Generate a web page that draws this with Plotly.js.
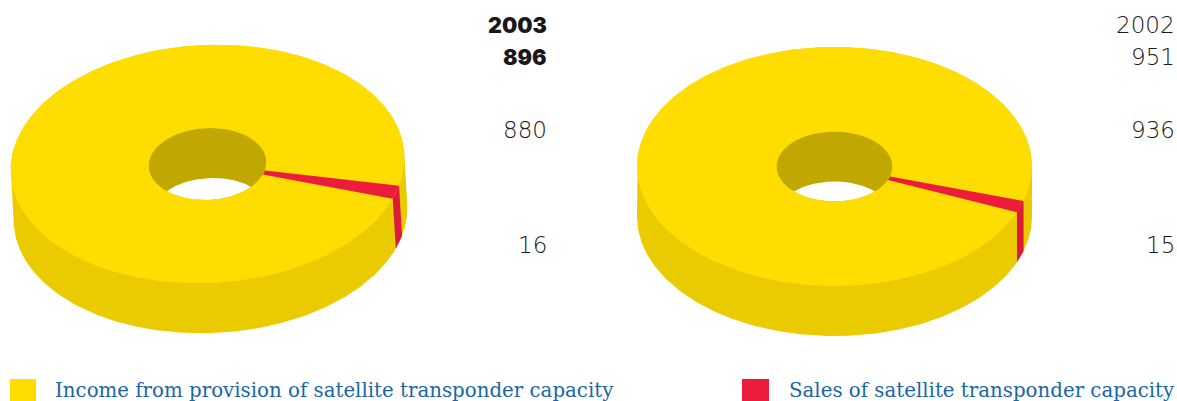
<!DOCTYPE html>
<html>
<head>
<meta charset="utf-8">
<script src="https://cdn.plot.ly/plotly-3.0.1.min.js"></script>
<style>html,body{margin:0;padding:0;background:#fff;overflow:hidden}#chart{width:1177px;height:401px}</style>
</head>
<body>
<div id="chart"></div>
<script>
const years = ['2003', '2002'];
const totals = [896, 951];
const incomeValues = [880, 936];
const salesValues = [16, 15];
const categories = ['Income from provision of satellite transponder capacity', 'Sales of satellite transponder capacity'];

const YELLOW = '#FFDD00', YELLOW_SIDE = '#E9CB00', WALL = '#C0A800', RED = '#EE1C3C', RED_SIDE = '#DC1A38';
const INK = '#1A1718', BLUE = '#1B66A8';

// layout of the two drawn rings (tilt in degrees, negative lifts the right-hand end)
const rings = [
  {cx: 207.5, cy: 164, rx: 197, ry: 119, hx: 59, hy: 36, dx: 3, dy: 50, tilt: -2.75, start: 15.0, labelX: 548, bold: true},
  {cx: 834.5, cy: 166.5, rx: 197.5, ry: 119.5, hx: 58, hy: 35, dx: 0, dy: 50, tilt: 0, start: 16.8, labelX: 1175.5, bold: false}
];
const labelY = [25, 57, 130, 245];

const rad = d => d * Math.PI / 180;
function place(r, u, v) {
  const s = Math.sin(rad(r.tilt)), c = Math.cos(rad(r.tilt));
  return [r.cx + u * c - v * s, r.cy + u * s + v * c];
}
function arc(r, a, b, a0, a1, n, shifted) {
  const xs = [], ys = [];
  for (let i = 0; i <= n; i++) {
    const t = rad(a0 + (a1 - a0) * i / n);
    const p = place(r, a * Math.cos(t), b * Math.sin(t));
    xs.push(p[0] + (shifted ? r.dx : 0));
    ys.push(p[1] + (shifted ? r.dy : 0));
  }
  return [xs, ys];
}
function poly(xs, ys, color) {
  return {type: 'scatter', mode: 'lines', x: xs.concat(xs[0]), y: ys.concat(ys[0]), fill: 'toself', fillcolor: color,
    line: {width: 0, color: color}, hoverinfo: 'skip', showlegend: false};
}
function sector(r, a0, a1, color) {
  const n = Math.max(6, Math.ceil(Math.abs(a1 - a0)));
  const o = arc(r, r.rx, r.ry, a0, a1, n, false);
  const i = arc(r, r.hx, r.hy, a1, a0, n, false);
  return poly(o[0].concat(i[0]), o[1].concat(i[1]), color);
}
function localShift(r) {
  const s = Math.sin(rad(r.tilt)), c = Math.cos(rad(r.tilt));
  return [r.dx * c + r.dy * s, -r.dx * s + r.dy * c];
}
function lens(r) {
  // the see-through part of the hole: hole ellipse overlapped with the same ellipse on the lower face
  const [lx, ly] = localShift(r);
  const upx = [], upy = [], lox = [], loy = [];
  for (let u = -r.hx; u <= r.hx + lx; u += 0.5) {
    const a = u / r.hx, b = (u - lx) / r.hx;
    if (Math.abs(a) >= 1 || Math.abs(b) >= 1) continue;
    const top = ly - r.hy * Math.sqrt(1 - b * b), bot = r.hy * Math.sqrt(1 - a * a);
    if (top < bot) {
      const p = place(r, u, top), q = place(r, u, bot);
      upx.push(p[0]); upy.push(p[1]); lox.unshift(q[0]); loy.unshift(q[1]);
    }
  }
  return poly(upx.concat(lox), upy.concat(loy), '#FFFFFF');
}

const traces = [], annotations = [];
rings.forEach((r, k) => {
  const total = incomeValues[k] + salesValues[k];
  const a0 = r.start;
  const a1 = a0 + salesValues[k] / total * 360;
  const a2 = a1 + incomeValues[k] / total * 360;

  // outer side wall between the two tangent points of the top and lower faces
  const [lx, ly] = localShift(r);
  const tr = Math.atan2(-r.ry * lx, r.rx * ly) * 180 / Math.PI;
  const b = arc(r, r.rx, r.ry, tr, tr + 180, 180, true);
  const t = arc(r, r.rx, r.ry, tr + 180, tr + 360, 180, false);
  traces.push(poly(b[0].concat(t[0]), b[1].concat(t[1]), YELLOW_SIDE));
  // red part of side wall
  const st = arc(r, r.rx, r.ry, a0, a1, 8, false);
  const sb = arc(r, r.rx, r.ry, a1, a0, 8, true);
  traces.push(poly(st[0].concat(sb[0]), st[1].concat(sb[1]), RED_SIDE));
  // hole wall and see-through
  const h = arc(r, r.hx, r.hy, 0, 360, 180, false);
  traces.push(poly(h[0], h[1], WALL));
  traces.push(lens(r));
  // top face
  traces.push(sector(r, a1, a2, YELLOW));
  traces.push(sector(r, a0, a1, RED));

  [years[k], totals[k], incomeValues[k], salesValues[k]].forEach((v, j) => {
    const strong = r.bold && j < 2;
    annotations.push({
      xref: 'x', yref: 'y', x: r.labelX, y: labelY[j], xanchor: 'right', yanchor: 'middle', showarrow: false,
      text: String(v), borderpad: 0,
      font: {family: strong ? 'Inter, DejaVu Sans' : 'DejaVu Sans', size: strong ? 21.5 : 23, color: INK, weight: strong ? 900 : 300}
    });
  });
});

const legendX = [54, 788], swatchX = [[10, 36], [742, 769]], swatchColor = [YELLOW, RED];
const shapes = [];
categories.forEach((c, k) => {
  annotations.push({xref: 'x', yref: 'y', x: legendX[k], y: 390, xanchor: 'left', yanchor: 'middle', showarrow: false, text: c, borderpad: 0,
    font: {family: 'DejaVu Serif', size: 19.8, color: BLUE}});
  shapes.push({type: 'rect', xref: 'x', yref: 'y', x0: swatchX[k][0], x1: swatchX[k][1], y0: 379, y1: 401, fillcolor: swatchColor[k], line: {width: 0}});
});

Plotly.newPlot('chart', traces, {
  width: 1177, height: 401, margin: {l: 0, r: 0, t: 0, b: 0}, paper_bgcolor: '#fff', plot_bgcolor: '#fff',
  showlegend: false, hovermode: false,
  xaxis: {range: [0, 1177], visible: false, fixedrange: true},
  yaxis: {range: [401, 0], visible: false, fixedrange: true},
  annotations, shapes
}, {displayModeBar: false, staticPlot: true});
</script>
</body>
</html>
